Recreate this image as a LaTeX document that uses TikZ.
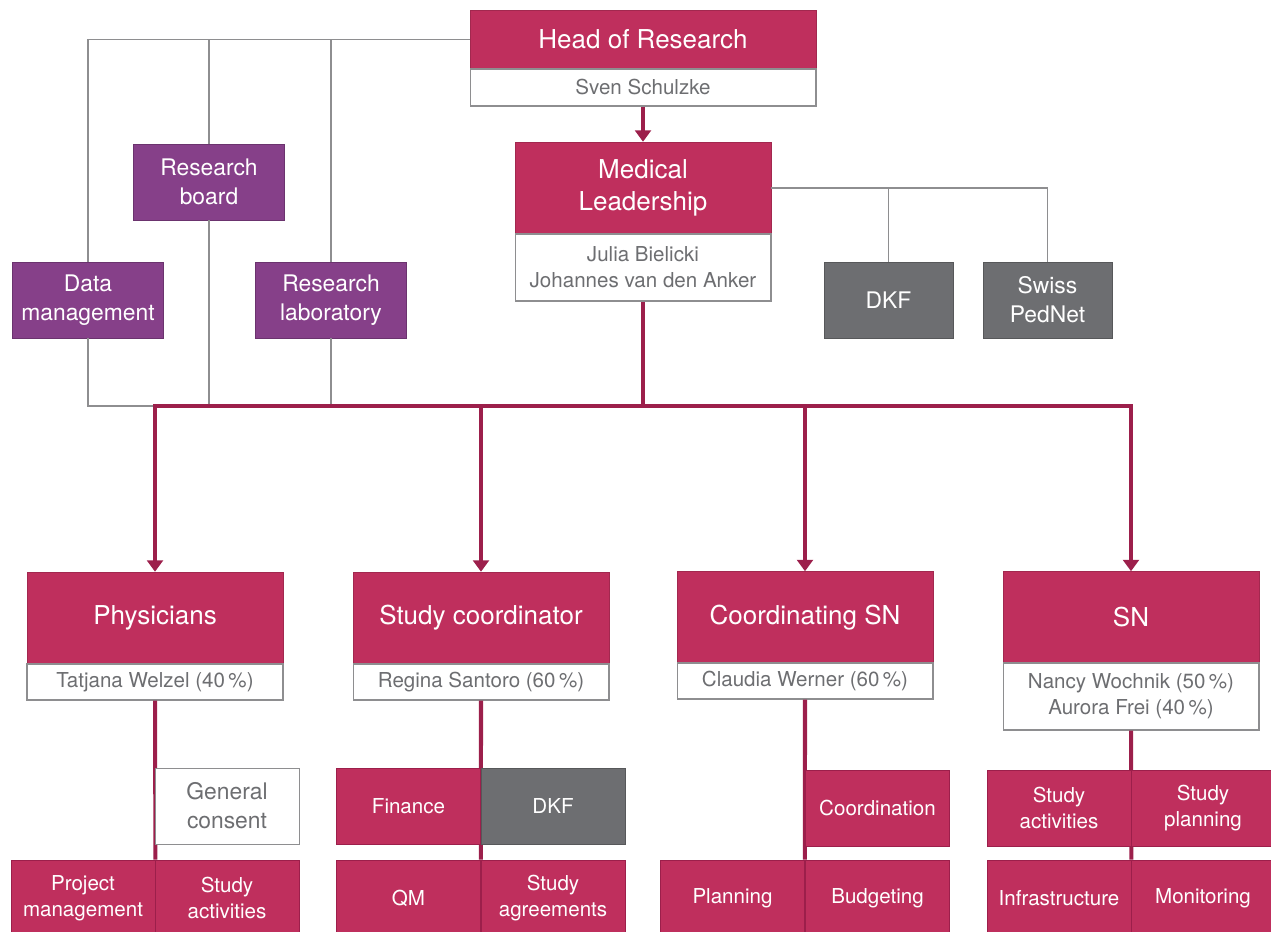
\documentclass[tikz,border=0pt]{standalone}
\usepackage{fontspec}
\setmainfont{TeX Gyre Heros}
\usetikzlibrary{arrows.meta}
\definecolor{boxred}{HTML}{BF2F5D}
\definecolor{linered}{HTML}{9C1F4B}
\definecolor{boxpurple}{HTML}{864089}
\definecolor{boxgray}{HTML}{6D6E71}
\definecolor{textgray}{HTML}{6D6E71}
\definecolor{rulegray}{HTML}{8E8E90}
\def\headfont{\fontsize{14.8}{18.2}\selectfont}
\def\midfont{\fontsize{13}{16.5}\selectfont}
\def\smallfont{\fontsize{11.7}{14.8}\selectfont}
\tikzset{
	orgbox/.style={rectangle, inner sep=0pt, align=center, text=white},
	headbox/.style={orgbox, fill=boxred, draw=boxred!85!black, line width=0.3pt, minimum width=5.12cm, minimum height=1.84cm, font=\headfont},
	namebox/.style={orgbox, fill=white, draw=rulegray, line width=0.6pt, text=textgray, minimum width=5.12cm, minimum height=0.72cm, font=\smallfont},
	sidebox/.style={orgbox, minimum width=3.02cm, minimum height=1.52cm, font=\midfont},
	unitbox/.style={orgbox, fill=boxred, draw=linered, line width=0.5pt, minimum width=2.88cm, minimum height=1.52cm, font=\smallfont},
	redline/.style={draw=linered, line width=2.3pt},
	redarrow/.style={redline, -{Triangle[width=9pt,length=6.5pt]}},
	greyline/.style={draw=rulegray, line width=0.6pt}
}

\begin{document}
\begin{tikzpicture}[x=0.02cm, y=-0.02cm]
			%%%%% START %%%%%
			\clip (0,0) rectangle (1271,932);
			
			\node[headbox, minimum width=6.92cm, minimum height=1.18cm] (head) at (643,39.5) {Head of Research};
			\node[namebox, minimum width=6.92cm, minimum height=0.74cm] (headname) at (643,87.5) {Sven Schulzke};
			
			\node[headbox] (med) at (643,188) {Medical\\Leadership};
			\node[namebox, minimum height=1.34cm] (medname) at (643,267.5) {Julia Bielicki\\Johannes van den Anker};
			
			\node[sidebox, fill=boxpurple, draw=boxpurple!80!black] (datam) at (88,300) {Data\\management};
			\node[sidebox, fill=boxpurple, draw=boxpurple!80!black] (board) at (209,182) {Research\\board};
			\node[sidebox, fill=boxpurple, draw=boxpurple!80!black] (lab) at (331,300) {Research\\laboratory};
			
			\node[sidebox, fill=boxgray, draw=boxgray!80!black, minimum width=2.58cm] (dkf) at (888.5,300) {DKF};
			\node[sidebox, fill=boxgray, draw=boxgray!80!black, minimum width=2.58cm] (swiss) at (1047.5,300) {Swiss\\PedNet};
			
			\node[headbox] (phys) at (155,618) {Physicians};
			\node[namebox] (physname) at (155,682) {Tatjana Welzel (40\,\%)};
			\node[headbox] (scoord) at (481,618) {Study coordinator};
			\node[namebox] (scname) at (481,682) {Regina Santoro (60\,\%)};
			\node[headbox] (csn) at (805,617.5) {Coordinating SN};
			\node[namebox] (csnname) at (805,681) {Claudia Werner (60\,\%)};
			\node[headbox] (sn) at (1131,617.5) {SN};
			\node[namebox, minimum height=1.34cm] (snname) at (1131,696.5) {Nancy Wochnik (50\,\%)\\Aurora Frei (40\,\%)};
			
			\node[unitbox] (pm) at (83,898) {Project\\management};
			\node[unitbox] (physact) at (227,898) {Study\\activities};
			\node[unitbox] (qm) at (408.5,898) {QM};
			\node[unitbox] (agree) at (553,898) {Study\\agreements};
			\node[unitbox] (plan) at (732.5,898) {Planning};
			\node[unitbox] (budget) at (877.5,898) {Budgeting};
			\node[unitbox] (infra) at (1059,898) {Infrastructure};
			\node[unitbox] (monitor) at (1203,898) {Monitoring};
			
			\coordinate (bus) at (643,406);
			
			\draw[greyline] (head.west) -| (datam);
			\foreach \n in {board,lab} \draw[greyline] (\n |- head.west) -- (\n);
			\draw[greyline] (datam) |- (phys |- bus);
			\foreach \n in {board,lab} \draw[greyline] (\n) -- (\n |- bus);
			\draw[greyline] (med.east) -| (swiss);
			\draw[greyline] (dkf |- med.east) -- (dkf);
			
			\draw[redarrow] (headname) -- (med);
			\draw[redline] (medname) -- (bus);
			\draw[redline, line cap=rect] (phys |- bus) -- (sn |- bus);
			\foreach \n in {phys,scoord,csn,sn} \draw[redarrow] (\n |- bus) -- (\n);
			
			\draw[redline] (physname) -- (pm.north east);
			\draw[redline] (scname) -- (qm.north east);
			\draw[redline] (csnname) -- (plan.north east);
			\draw[redline] (snname) -- (infra.north east);
			
			\node[unitbox, fill=white, draw=rulegray, text=textgray, font=\midfont] (consent) at (227,806) {General\\consent};
			\node[unitbox] (finance) at (408.5,806) {Finance};
			\node[unitbox, fill=boxgray, draw=boxgray!80!black] (dkfunit) at (553,806) {DKF};
			\node[unitbox] (coord) at (877.5,808) {Coordination};
			\node[unitbox] (snact) at (1059,808) {Study\\activities};
			\node[unitbox] (snplan) at (1203,808) {Study\\planning};
			
			%%%%% END %%%%%
\end{tikzpicture}
\end{document}
